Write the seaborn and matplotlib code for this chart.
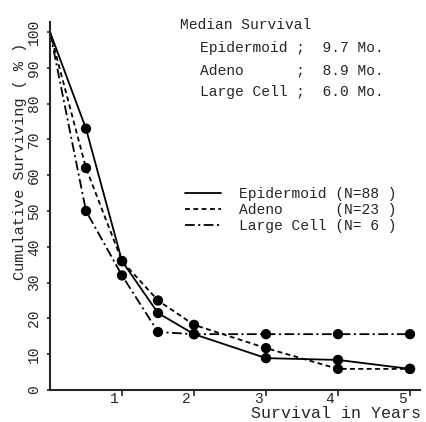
import matplotlib
matplotlib.use("Agg")
import matplotlib.pyplot as plt
import matplotlib.transforms as mtransforms
from matplotlib.lines import Line2D
import seaborn as sns
import pandas as pd

# Survival data (years, % surviving)
years = [0, 0.5, 1, 1.5, 2, 3, 4, 5]
epidermoid = [100, 73, 36, 21.5, 15.6, 8.9, 8.4, 5.9]
adeno = [100, 62, 36, 25, 18.2, 11.7, 5.9, 5.9]
large_cell = [100, 50, 32, 16.2, 15.6, 15.6, 15.6, 15.6]

series_names = ["Epidermoid", "Adeno", "Large Cell"]
legend_labels = ["Epidermoid (N=88 )", "Adeno      (N=23 )", "Large Cell (N= 6 )"]
median_lines = ["Epidermoid ;  9.7 Mo.", "Adeno      ;  8.9 Mo.", "Large Cell ;  6.0 Mo."]
y_ticks = [0, 10, 20, 30, 40, 50, 60, 70, 80, 90, 100]
x_ticks = [1, 2, 3, 4, 5]

sns.set_style("ticks")
plt.rcParams["font.family"] = ["Liberation Mono", "DejaVu Sans Mono"]
plt.rcParams["lines.scale_dashes"] = False

rows = []
for name, vals in zip(series_names, [epidermoid, adeno, large_cell]):
    for x, v in zip(years, vals):
        rows.append({"years": x, "pct": v, "type": name})
df = pd.DataFrame(rows)

W, H = 426, 422
fig = plt.figure(figsize=(W / 100, H / 100), dpi=100)
ax = fig.add_axes([50 / W, (H - 390) / H, 370 / W, (390 - 22) / H])

styles = {
    "Epidermoid": "-",
    "Adeno": (0, (3.5, 2.5)),
    "Large Cell": (0, (7, 2.5, 1.5, 2.5)),
}

for name in series_names:
    sub = df[df["type"] == name]
    sns.lineplot(data=sub, x="years", y="pct", color="black", linewidth=1.3,
                 linestyle=styles[name], ax=ax, legend=False)
    sns.scatterplot(data=sub[sub["years"] > 0], x="years", y="pct", color="black",
                    s=55, edgecolor="none", ax=ax, legend=False, zorder=3)

ax.set_xlim(0, 370 / 72)
ax.set_ylim(0, (390 - 22) / 3.58)
sns.despine(ax=ax)
for sp in ["left", "bottom"]:
    ax.spines[sp].set_linewidth(1.5)

ax.set_yticks(y_ticks)
ax.set_yticklabels([str(t) for t in y_ticks])
ax.tick_params(axis="y", length=2.5, width=1.2, pad=4, labelsize=10.5)
plt.setp(ax.get_yticklabels(), rotation=90, va="center", ha="right")

ax.set_xticks(x_ticks)
ax.set_xticklabels([str(t) for t in x_ticks])
ax.tick_params(axis="x", length=4.5, width=1.2, pad=-3, labelsize=10.5)
offset = mtransforms.ScaledTranslation(-8 / 100, 0, fig.dpi_scale_trans)
for lab in ax.get_xticklabels():
    lab.set_transform(lab.get_transform() + offset)

ax.set_xlabel("Survival in Years", fontsize=12)
ax.xaxis.set_label_coords((336 - 50) / 370, -(413 - 390) / 368)
ax.xaxis.label.set_va("center")
ax.set_ylabel("Cumulative Surviving ( % )", fontsize=11)
ax.yaxis.set_label_coords((20 - 50) / 370, (390 - 161) / 368)
ax.yaxis.label.set_va("center")

# Median survival block
fig.text(180 / W, 1 - 25 / H, "Median Survival", fontsize=10.5, va="center")
for txt, yy in zip(median_lines, [48, 70, 92]):
    fig.text(200 / W, 1 - yy / H, txt, fontsize=10.5, va="center")

handles = [Line2D([], [], color="black", linewidth=1.3, linestyle=styles[n]) for n in series_names]
ax.legend(handles, legend_labels, loc="upper left",
          bbox_to_anchor=(185 / W, 1 - 187 / H), bbox_transform=fig.transFigure,
          frameon=False, borderpad=0, borderaxespad=0, handlelength=2.5,
          handletextpad=1.2, labelspacing=0.15, prop={"size": 10.5})

fig.savefig("out.png", dpi=100)
